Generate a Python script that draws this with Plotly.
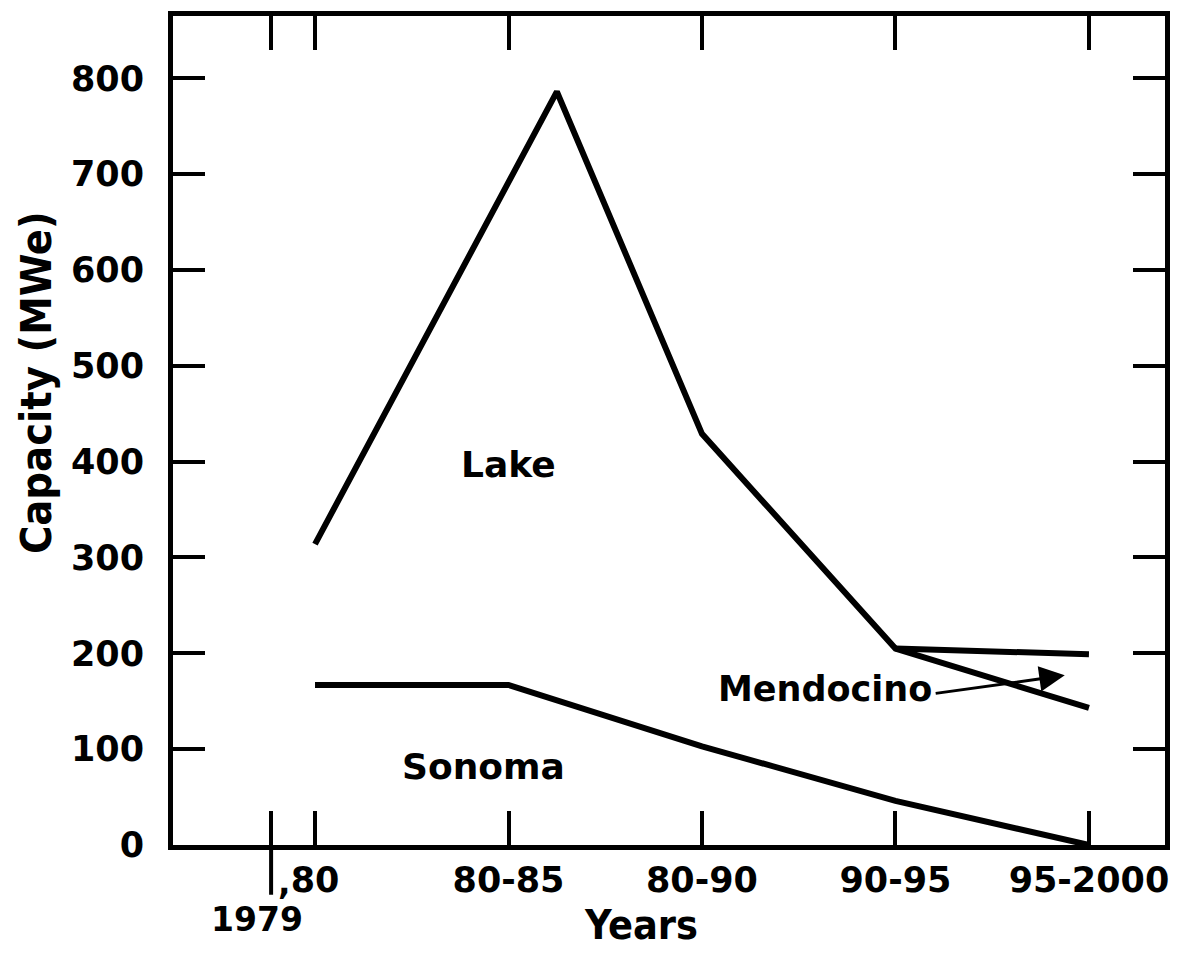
import plotly.graph_objects as go

# categories on the x axis (positions 0..4), plus the lone 1979 tick
periods = ["80", "80-85", "80-90", "90-95", "95-2000"]
period_pos = [0, 1, 2, 3, 4]
year_1979_pos = -0.227

# Lake (rises to a peak between 80-85 and 80-90)
lake_x = [0, 1.25, 2, 3, 4]
lake_y = [314, 786, 429, 205, 143]

# Mendocino branch (upper line after 90-95)
mendo_x = [3, 4]
mendo_y = [205, 199]

# Sonoma
sonoma_x = [0, 1, 2, 3, 4]
sonoma_y = [167, 167, 103, 46, 0]

y_ticks = [0, 100, 200, 300, 400, 500, 600, 700, 800]

FONT = "DejaVu Sans"
FONT_NARROW = "DejaVu Sans Condensed"
BLACK = "#000000"
LW = 6


def bold(size, family=FONT):
    return dict(family=family, size=size, color=BLACK, weight="bold")


fig = go.Figure()
for xs, ys in [(lake_x, lake_y), (mendo_x, mendo_y), (sonoma_x, sonoma_y)]:
    fig.add_trace(go.Scatter(
        x=xs, y=ys, mode="lines",
        line=dict(color=BLACK, width=LW),
        showlegend=False, hoverinfo="skip"))

axis_common = dict(
    showline=True, linecolor=BLACK, linewidth=5, mirror="ticks",
    ticks="inside", tickcolor=BLACK, tickwidth=4,
    showgrid=False, zeroline=False,
    tickfont=bold(35),
)

fig.update_xaxes(
    range=[-0.734, 4.393],
    tickvals=[year_1979_pos] + period_pos,
    ticktext=[""] + periods,
    ticklen=34,
    ticklabelstandoff=0,
    **axis_common)

fig.update_yaxes(
    range=[0, 865],
    tickvals=y_ticks,
    ticklen=32,
    ticklabelstandoff=17,
    **axis_common)

# axis titles (placed off-centre like the original)
fig.add_annotation(x=-0.1374, y=0.558, xref="paper", yref="paper",
                   text="Capacity (MWe)", textangle=-90, showarrow=False,
                   xanchor="center", yanchor="middle",
                   font=bold(43, FONT_NARROW))
fig.add_annotation(x=0.472, y=-0.097, xref="paper", yref="paper",
                   text="Years", showarrow=False,
                   xanchor="center", yanchor="middle",
                   font=bold(41, FONT_NARROW))

# 1979 label, its downward stroke and the comma before "80"
fig.add_shape(type="line", xref="x", yref="paper",
              x0=year_1979_pos, x1=year_1979_pos, y0=0, y1=-0.06,
              line=dict(color=BLACK, width=4))
fig.add_annotation(x=year_1979_pos, xref="x", y=-0.09, yref="paper",
                   text="1979", showarrow=False, xanchor="center",
                   xshift=-14, yanchor="middle", font=bold(33))
fig.add_annotation(x=year_1979_pos, xref="x", y=-0.045, yref="paper",
                   text=",", showarrow=False, xanchor="center",
                   xshift=13, yanchor="middle", font=bold(33))

# region labels
for text, x, y in [("Lake", 1.0, 397), ("Sonoma", 0.87, 82)]:
    fig.add_annotation(x=x, y=y, text=text, showarrow=False, font=bold(36))

fig.add_annotation(x=3.875, y=177, ax=3.2, ay=158, axref="x", ayref="y",
                   text="", showarrow=True, arrowhead=2, arrowsize=1.7,
                   arrowwidth=3, arrowcolor=BLACK)
fig.add_annotation(x=3.2, y=163, text="Mendocino", showarrow=False,
                   xanchor="right", yanchor="middle", font=bold(35))

fig.update_layout(
    width=1181, height=946,
    margin=dict(l=165, r=24, t=3, b=109),
    plot_bgcolor="white", paper_bgcolor="white",
    font=dict(family=FONT, color=BLACK),
)

fig.write_html("out.html")
